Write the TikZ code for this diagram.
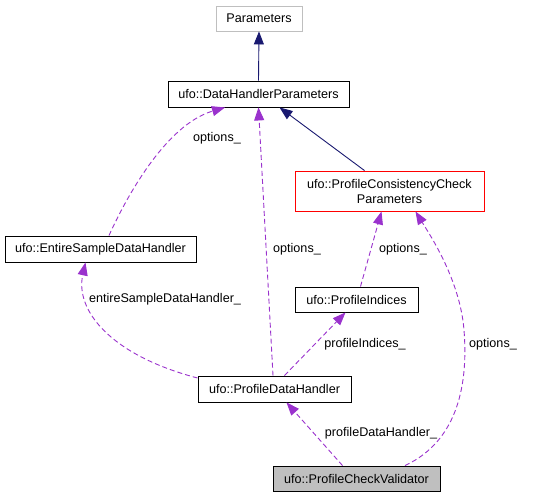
\documentclass[tikz,border=0pt]{standalone}
\usepackage{fontspec}
\setmainfont{Liberation Sans}
\usetikzlibrary{arrows.meta}
\definecolor{navyline}{RGB}{25,25,112}
\definecolor{useline}{RGB}{154,50,205}
\definecolor{boxgray}{RGB}{191,191,191}
\begin{document}
\begin{tikzpicture}[x=1pt,y=-1pt,
    cls/.style={draw=black,line width=0.9pt,inner sep=0pt,minimum height=26pt,font=\fontsize{12.6}{15}\selectfont},
    inherit/.style={navyline,line width=0.9pt,-{Triangle[length=13pt,width=10pt]}},
    member/.style={useline,line width=0.9pt,dash pattern=on 5pt off 3pt,-{Triangle[length=13pt,width=10pt]}},
    lbl/.style={font=\fontsize{12.6}{15}\selectfont,inner sep=1pt}]
    \useasboundingbox (0,0) rectangle (542,497);
    % classes
    \node[cls,draw=boxgray,minimum width=86pt,minimum height=25pt] (params) at (259,18.5) {Parameters};
    \node[cls,minimum width=181pt] (dhp) at (258.5,94) {ufo::DataHandlerParameters};
    \node[cls,draw=red,minimum width=189pt,minimum height=40pt,align=center] (pccp) at (389.5,191) {ufo::ProfileConsistencyCheck\\Parameters};
    \node[cls,minimum width=191pt] (esdh) at (100.5,249) {ufo::EntireSampleDataHandler};
    \node[cls,minimum width=123pt,minimum height=25pt] (pidx) at (356.5,299.5) {ufo::ProfileIndices};
    \node[cls,minimum width=153pt] (pdh) at (274.5,389) {ufo::ProfileDataHandler};
    \node[cls,fill=boxgray,minimum width=167pt,minimum height=25pt] (pcv) at (356.5,478.5) {ufo::ProfileCheckValidator};
    % inheritance
    \draw[inherit] (dhp.north) -- (params.south);
    \draw[inherit] ([xshift=-25pt]pccp.north) -- ([xshift=21pt]dhp.south);
    % members
    \draw[member] ([xshift=8.5pt]esdh.north) .. controls (125,200) and (165,125) .. ([xshift=-33.5pt]dhp.south);
    \node[lbl] (optesdh) at (217,138) {options\_};
    \draw[member] ([xshift=-1.5pt]pdh.north) -- (dhp.south);
    \node[lbl] (optpdh) at (297,249) {options\_};
    \draw[member] ([yshift=11pt]pdh.west) .. controls (110,355) and (75,310) .. ([xshift=-15pt]esdh.south);
    \node[lbl] (esdhlbl) at (165,299) {entireSampleDataHandler\_};
    \draw[member] ([xshift=10pt]pdh.north) -- ([xshift=-11pt]pidx.south);
    \node[lbl] (pidxlbl) at (365,344) {profileIndices\_};
    \draw[member] ([xshift=4pt]pidx.north) -- ([xshift=-8pt]pccp.south);
    \node[lbl] (optpidx) at (403,249) {options\_};
    \draw[member] ([xshift=-14pt]pcv.north) -- ([xshift=12pt]pdh.south);
    \node[lbl] (pdhlbl) at (381,433) {profileDataHandler\_};
    \draw[member] ([xshift=48.5pt]pcv.north) .. controls (460,440) and (468,380) .. (464,330)
        .. controls (460,280) and (430,235) .. ([xshift=26pt]pccp.south);
    \node[lbl] (optpcv) at (493,344) {options\_};
\end{tikzpicture}
\end{document}
